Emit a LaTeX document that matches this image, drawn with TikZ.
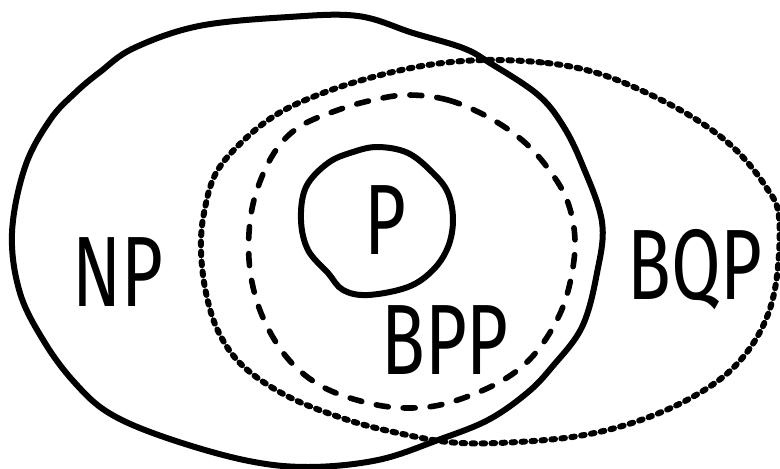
\documentclass[tikz,border=0pt]{standalone}
\usepackage{fontspec}
\setmainfont{Fira Sans}[FakeStretch=0.72]
\begin{document}
\begin{tikzpicture}[x=1pt,y=-1pt,
  solidline/.style={line width=6pt,line cap=round,line join=round},
  dottedline/.style={line width=6pt,line cap=round,dash pattern=on 3.6pt off 6.4pt},
  dashedline/.style={line width=5.6pt,line cap=round,dash pattern=on 12pt off 15pt},
  lbl/.style={font=\fontsize{100}{100}\selectfont,inner sep=0pt}]
\useasboundingbox (0,0) rectangle (780,469);
% NP
\draw[solidline] plot[smooth cycle,tension=0.6] coordinates {
 (289,17) (358,16) (413,33) (463,48) (490,63) (537,94) (562,124) (582,164)
 (602,222) (597,273) (582,327) (552,367) (527,393) (488,420) (438,440)
 (378,460) (308,467) (244,460) (164,437) (109,413) (75,383) (45,343)
 (20,293) (12,233) (25,167) (50,120) (75,93) (100,72) (134,48) (199,26)};
% BQP
\draw[dottedline] plot[smooth cycle,tension=0.6] coordinates {
 (485,60) (547,63) (597,73) (647,93) (697,120) (736,150) (766,187)
 (779,217) (776,283) (761,330) (731,370) (687,400) (632,423) (572,437)
 (498,443) (448,442) (398,433) (348,420) (289,397) (244,367) (219,333)
 (206,293) (201,250) (204,213) (216,173) (244,140) (279,113) (323,93)
 (373,77) (428,65)};
% BPP
\draw[dashedline] plot[smooth cycle,tension=0.6] coordinates {
 (408,95) (448,100) (488,117) (522,140) (547,167) (567,200) (575,240)
 (570,283) (557,320) (532,357) (498,383) (448,403) (408,408) (368,403)
 (323,387) (289,360) (264,320) (251,277) (249,233) (256,193) (274,153)
 (299,127) (338,110) (373,100)};
% P
\draw[solidline] plot[smooth cycle,tension=0.6] coordinates {
 (378,147) (408,153) (433,173) (448,193) (453,220) (448,247) (433,270)
 (408,287) (368,295) (343,290) (328,273) (308,250) (301,220) (306,187)
 (328,163) (353,152)};
\node[lbl] (np) at (118,272) {NP};
\node[lbl] (p) at (385,220) {P};
\node[lbl] (bpp) at (445,340) {BPP};
\node[lbl] (bqp) at (695,270) {BQP};
\end{tikzpicture}
\end{document}
